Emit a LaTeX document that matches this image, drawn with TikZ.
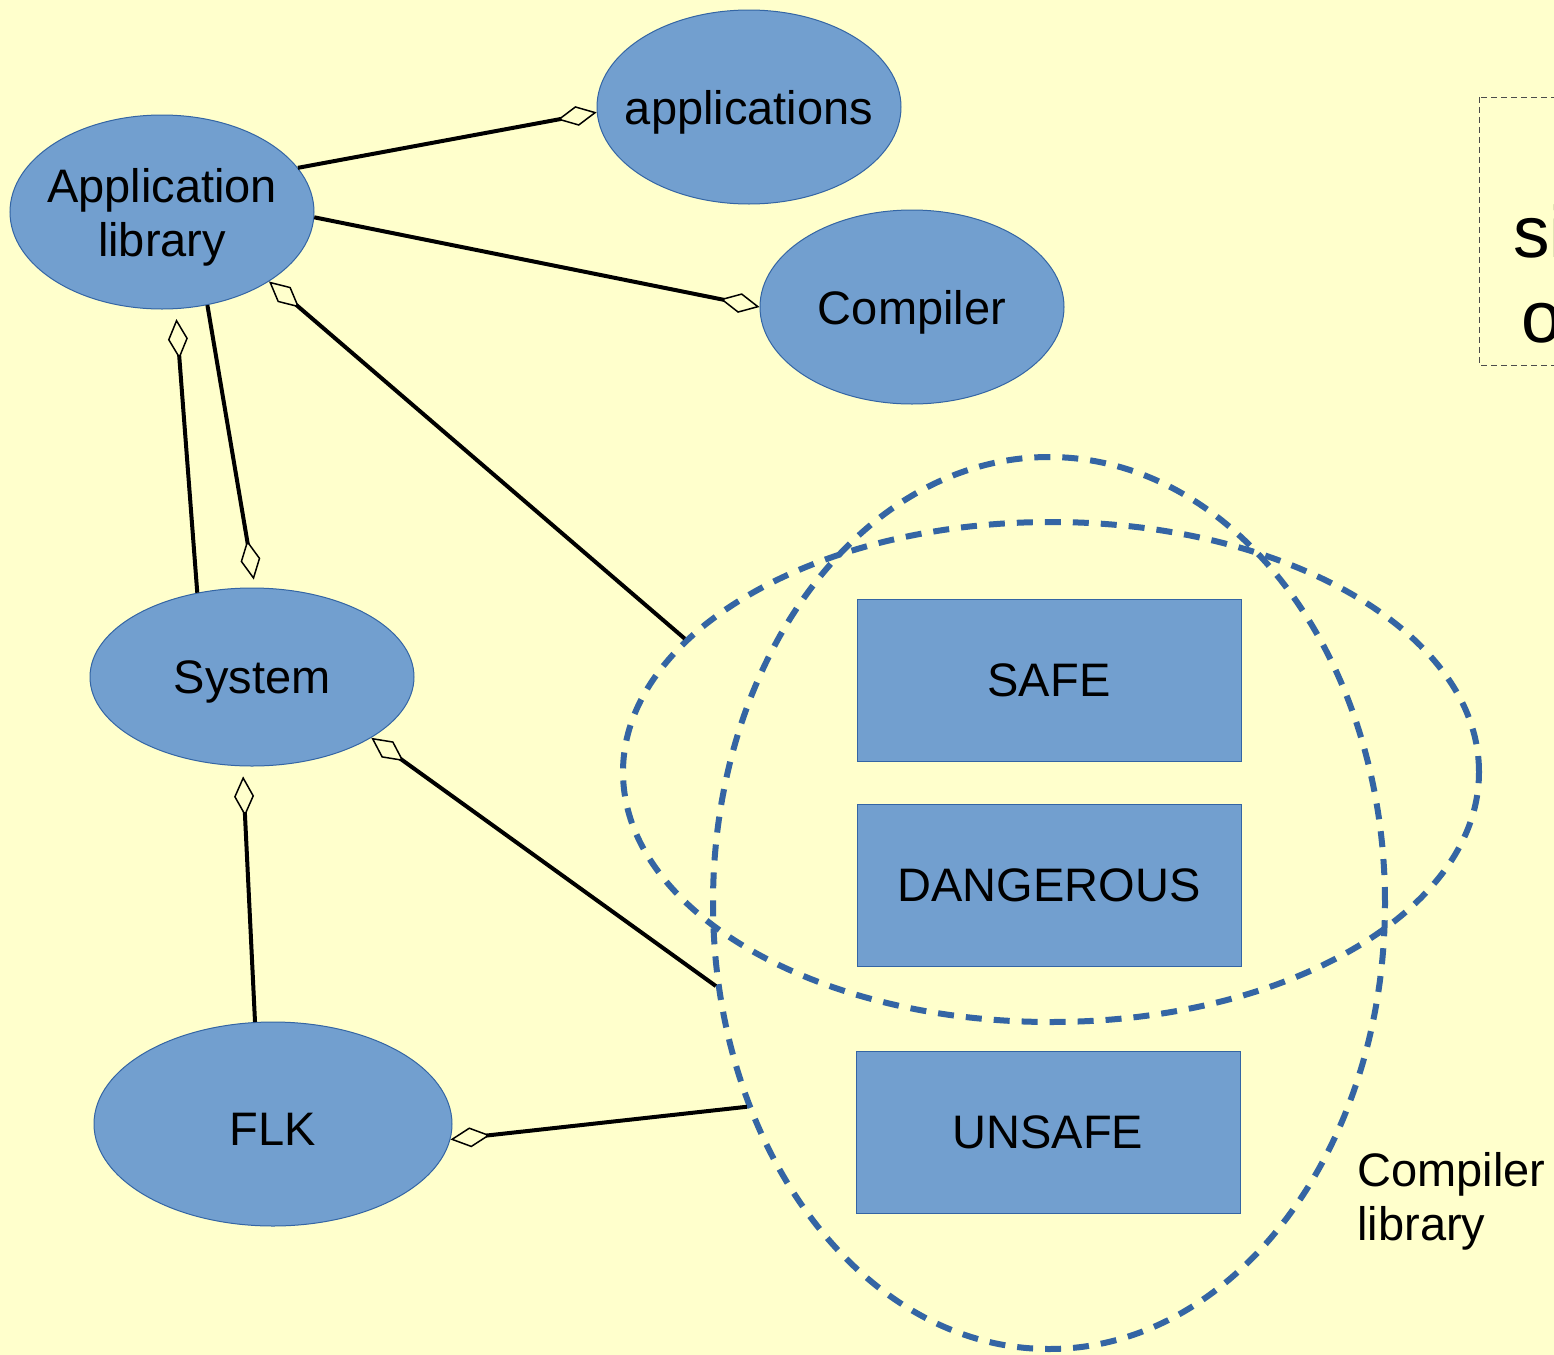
\documentclass[tikz,border=0pt]{standalone}
\usepackage{fontspec}
\setmainfont{Liberation Sans}
\usetikzlibrary{shapes.geometric,arrows.meta}

\definecolor{bgyellow}{HTML}{FFFFCC}
\definecolor{blobfill}{HTML}{729FCF}
\definecolor{blobedge}{HTML}{3465A4}

\tikzset{
  blob/.style={ellipse,draw=blobedge,fill=blobfill,line width=0.5pt,inner sep=0pt},
  box/.style={rectangle,draw=blobedge,fill=blobfill,line width=0.5pt,inner sep=0pt,
    minimum width=192pt,minimum height=81pt,font=\fontsize{23.5}{27}\selectfont},
  zone/.style={ellipse,draw=blobedge,line width=3pt,dash pattern=on 8pt off 6pt,inner sep=0pt},
  agg/.style={line width=2pt,-{Diamond[open,length=20pt,width=10pt,line width=0.75pt]}},
  lbl/.style={font=\fontsize{23.5}{27}\selectfont,align=center,inner sep=0pt,yshift=-2.5pt},
}

\begin{document}
\begin{tikzpicture}[x=0.5pt,y=0.5pt,yscale=-1,xscale=1]
%Background
\fill[bgyellow] (0,0) rectangle (1554,1355);
\useasboundingbox (0,0) rectangle (1554,1355);

%Shape: Ellipses
\node[blob,minimum width=152pt,minimum height=97pt,label={[lbl]center:applications}] (apps) at (749,107) {};
\node[blob,minimum width=152pt,minimum height=97pt,label={[lbl]center:Application\\library}] (applib) at (162,212) {};
\node[blob,minimum width=152pt,minimum height=97pt,label={[lbl]center:Compiler}] (compiler) at (912,307) {};
\node[blob,minimum width=162pt,minimum height=89pt,label={[lbl]center:System}] (system) at (252,677) {};
\node[blob,minimum width=179pt,minimum height=102pt,label={[lbl]center:FLK}] (flk) at (273,1124) {};

%Shape: Rectangles
\node[box] (safe) at (1049,680) {SAFE};
\node[box] (danger) at (1049,885) {DANGEROUS};
\node[box] (unsafe) at (1048,1132) {UNSAFE};

%Shape: dashed zones
\node[zone,minimum width=428pt,minimum height=250pt] (safezone) at (1051,772) {};
\node[zone,minimum width=336pt,minimum height=446pt] (complib) at (1049,903) {};

%Straight Lines
\draw[agg] (applib.18) -- (apps.182);
\draw[agg] (applib.-2) -- (compiler.west);
\draw[agg] (safezone.160) -- (applib.-33);
\draw[agg,shorten >=5pt] (system.123) -- (applib.-82);
\draw[agg,shorten >=4pt] (applib.-64) -- (system.88);
\draw[agg] (complib.194) -- (system.-27);
\draw[agg,shorten >=5pt] (flk.100) -- (system.264);
\draw[agg] (complib.214) -- (flk.-5);

%Shape: Note box
\draw[draw=black!70,line width=0.5pt,dash pattern=on 3pt off 2pt] (1479,97) rectangle (1620,365);

% Text Node
\node[font=\fontsize{23.5}{27}\selectfont,align=left,inner sep=0pt,anchor=north west] (cliblabel) at (1357,1152) {Compiler\\library};
% Text Node
\node[font=\fontsize{36.5}{42.5}\selectfont,anchor=base west,inner sep=0pt] (notetext) at (1513,257) {si};
\node[font=\fontsize{36.5}{42.5}\selectfont,anchor=base west,inner sep=0pt] (notetext2) at (1521,342) {o};

\end{tikzpicture}
\end{document}
